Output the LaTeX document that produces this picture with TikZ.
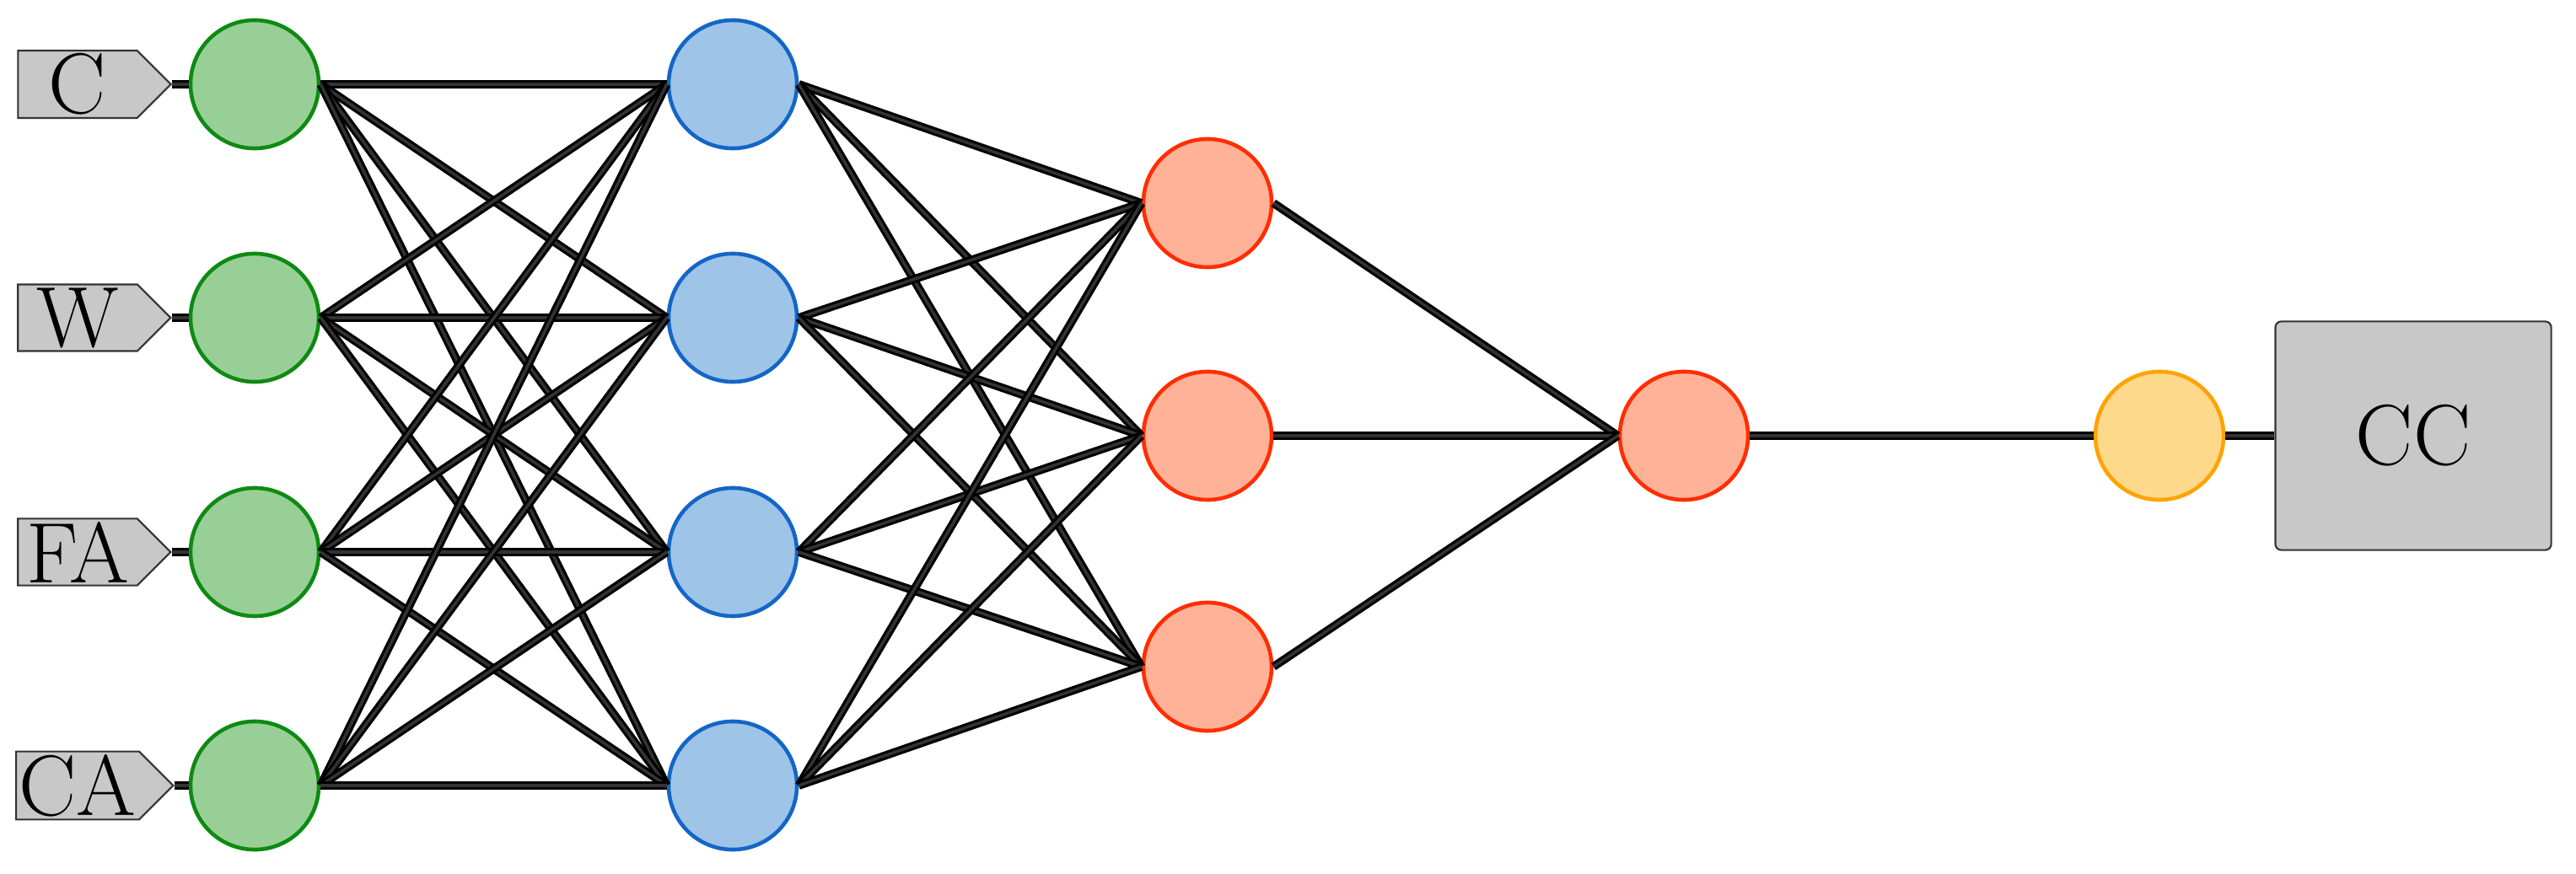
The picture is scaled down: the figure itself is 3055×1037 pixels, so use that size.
\documentclass[tikz,border=0pt]{standalone}
\usetikzlibrary{shapes.symbols,shapes.geometric,positioning}
\definecolor{verde}{HTML}{0E8A12}
\definecolor{verdef}{HTML}{98CF97}
\definecolor{azul}{HTML}{1466C6}
\definecolor{azulf}{HTML}{9EC4E8}
\definecolor{rojo}{HTML}{FF2E00}
\definecolor{rojof}{HTML}{FFB298}
\definecolor{ambar}{HTML}{FFA300}
\definecolor{ambarf}{HTML}{FFD98B}
\definecolor{gris}{HTML}{C8C8C8}

\begin{document}
\begin{tikzpicture}[x=0.01cm,y=-0.01cm,
  neurona/.style={circle,minimum size=1.52cm,inner sep=0pt,line width=1.3pt},
  entrada/.style={signal,signal to=east,fill=gris,draw=black!80,line width=0.6pt,
    minimum width=1.81cm,minimum height=0.79cm,inner sep=1pt,
    font=\fontsize{29}{30}\selectfont},
  enlace/.style={line width=0.9pt,black,double=black!80,double distance=1pt}]
  \useasboundingbox (0,0) rectangle (3055,1037);
  \foreach \y/\t [count=\i] in {100/C,377/W,655/FA,932/CA} {
    \node[entrada] (e\i) at (92,\y) {\t};
    \node[neurona,fill=verdef,draw=verde] (a\i) at (302,\y) {};
    \node[neurona,fill=azulf,draw=azul] (b\i) at (869,\y) {};
  }
  \foreach \y [count=\i] in {241,517,791}
    \node[neurona,fill=rojof,draw=rojo] (c\i) at (1432,\y) {};
  \node[neurona,fill=rojof,draw=rojo] (d) at (1997,517) {};
  \node[neurona,fill=ambarf,draw=ambar] (s) at (2561,517) {};
  \node[rectangle,rounded corners=2pt,fill=gris,draw=black!80,line width=0.6pt,
        minimum width=3.27cm,minimum height=2.71cm,
        font=\fontsize{29}{30}\selectfont] (cc) at (2862,517) {CC};
  % conexiones
  \foreach \i in {1,...,4} {
    \draw[enlace] (e\i.east) -- (a\i.west);
    \foreach \j in {1,...,4} \draw[enlace] (a\i.east) -- (b\j.west);
    \foreach \j in {1,2,3} \draw[enlace] (b\i.east) -- (c\j.west);
  }
  \foreach \j in {1,2,3} \draw[enlace] (c\j.east) -- (d.west);
  \draw[enlace] (d.east) -- (s.west);
  \draw[enlace] (s.east) -- (cc.west);
\end{tikzpicture}
\end{document}
